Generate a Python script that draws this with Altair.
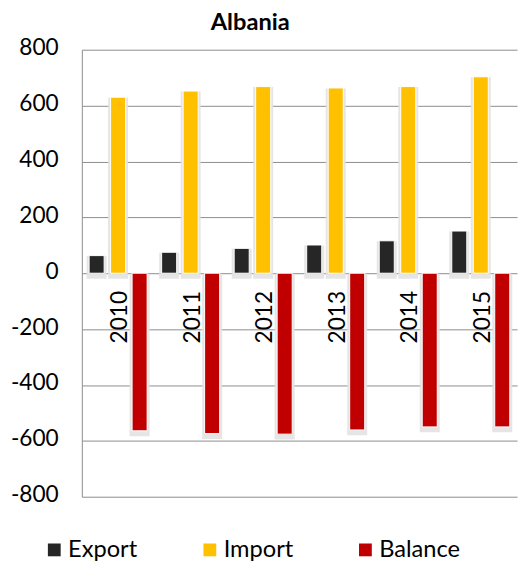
import altair as alt
import pandas as pd

years = ["2010", "2011", "2012", "2013", "2014", "2015"]
series = ["Export", "Import", "Balance"]
export_vals = [63, 75, 89, 101, 116, 151]
import_vals = [630, 652, 668, 663, 668, 703]
balance_vals = [-564, -574, -576, -561, -550, -550]
colors = ["#262626", "#FFC000", "#C00000"]
y_ticks = [-800, -600, -400, -200, 0, 200, 400, 600, 800]

rows = []
for name, vals in zip(series, [export_vals, import_vals, balance_vals]):
    for yr, v in zip(years, vals):
        rows.append({"year": yr, "series": name, "value": v})
df = pd.DataFrame(rows)
year_df = pd.DataFrame({"year": years})

FONT = "Lato"
GRID = "#8C8C8C"

x_enc = alt.X("year:N", sort=years, scale=alt.Scale(paddingInner=0.2, paddingOuter=0.1), axis=None)
xo_enc = alt.XOffset("series:N", scale=alt.Scale(domain=series, paddingInner=0.3, paddingOuter=0))
y_enc = alt.Y(
    "value:Q",
    scale=alt.Scale(domain=[-800, 800], nice=False),
    axis=alt.Axis(
        values=y_ticks, title=None, ticks=False, domain=True, domainColor=GRID,
        grid=True, gridColor=GRID, gridWidth=1, labelFont=FONT, labelFontSize=23,
        labelColor="black", labelPadding=24, labelOffset=-2,
        labelExpr="toString(datum.value)",
    ),
)

shadow = alt.Chart(df).mark_bar(
    color="#E3E3E3", stroke="#E3E3E3", strokeWidth=5, yOffset=3, opacity=0.9
).encode(x=x_enc, xOffset=xo_enc, y=y_enc)

bars = alt.Chart(df).mark_bar(stroke="white", strokeWidth=1).encode(
    x=x_enc,
    xOffset=xo_enc,
    y=y_enc,
    color=alt.Color(
        "series:N",
        scale=alt.Scale(domain=series, range=colors),
        legend=alt.Legend(
            title=None, orient="none", direction="horizontal", legendX=-40, legendY=496,
            symbolType="square", symbolSize=169, symbolStrokeWidth=0, labelFont=FONT,
            labelFontSize=24, labelColor="black", columnPadding=61, labelOffset=2,
        ),
    ),
)

labels = alt.Chart(year_df).mark_text(
    angle=270, align="right", baseline="middle", dx=-18, dy=2, font=FONT, fontSize=23, color="black"
).encode(
    x=alt.X("year:N", sort=years, scale=alt.Scale(paddingInner=0.2, paddingOuter=0.1), axis=None),
    y=alt.datum(0),
    text="year:N",
)

chart = alt.layer(shadow, bars, labels).properties(
    width=442,
    height=454,
    title=alt.TitleParams(
        "Albania", font=FONT, fontSize=24, fontWeight="bold", color="black",
        anchor="middle", frame="group", dx=-50, offset=2,
    ),
    autosize=alt.AutoSizeParams(type="none"),
    padding={"left": 75, "top": 38, "right": 3, "bottom": 66},
).configure_view(stroke=None)

chart.save("out.html", embed_options={"renderer": "svg", "actions": False})
